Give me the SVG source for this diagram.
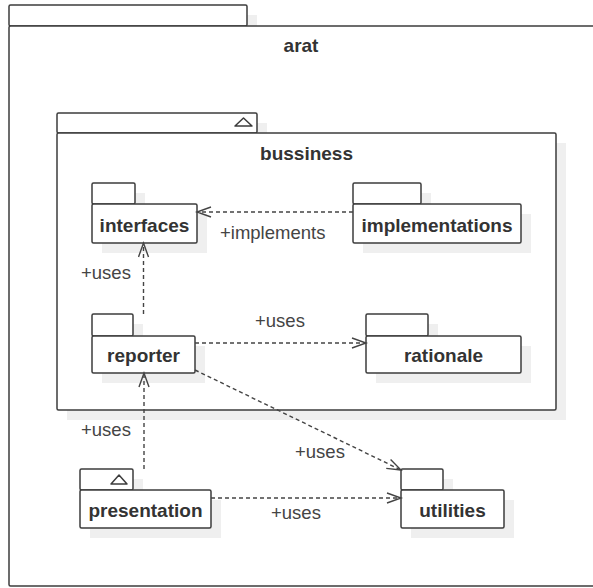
<svg xmlns="http://www.w3.org/2000/svg" width="593" height="588" viewBox="0 0 593 588">
  <style>
    .shadow { fill: #efefef; stroke: none; }
    .pkg { fill: #ffffff; stroke: #3c3c3c; stroke-width: 1.5; }
    .name { font-family: "Liberation Sans", Arial, sans-serif; font-size: 19px; font-weight: bold; fill: #333333; text-anchor: middle; }
    .label { font-family: "Liberation Sans", Arial, sans-serif; font-size: 18.5px; fill: #444444; }
    .dep { fill: none; stroke: #444444; stroke-width: 1.4; stroke-dasharray: 4 3; }
    .icon { fill: none; stroke: #3c3c3c; stroke-width: 1.5; stroke-linejoin: round; }
  </style>
  <defs>
    <marker id="open" markerUnits="userSpaceOnUse" markerWidth="18" markerHeight="14" refX="15" refY="6" orient="auto">
      <path d="M1,1 L15,6 L1,11" fill="none" stroke="#444444" stroke-width="1.4" stroke-dasharray="none"/>
    </marker>
  </defs>

  <rect width="593" height="588" fill="#ffffff"/>

  <!-- outer package: arat -->
  <g id="arat">
    <rect class="shadow" x="19" y="15" width="238" height="21"/>
    <rect class="pkg" x="9" y="5" width="238" height="21" rx="1.5"/>
    <rect class="pkg" x="9" y="26" width="586" height="560" rx="1.5"/>
    <text class="name" x="301" y="52">arat</text>
  </g>

  <!-- nested package: bussiness -->
  <g id="bussiness">
    <rect class="shadow" x="67" y="123" width="200" height="20"/>
    <rect class="shadow" x="67" y="143" width="499" height="277"/>
    <rect class="pkg" x="57" y="113" width="200" height="20" rx="1.5"/>
    <rect class="pkg" x="57" y="133" width="499" height="277" rx="1.5"/>
    <path class="icon" d="M235,126 L252,126 L243.5,118 Z"/>
    <text class="name" x="306.5" y="160">bussiness</text>
  </g>

  <g id="interfaces">
    <rect class="shadow" x="102" y="193" width="43" height="21"/>
    <rect class="shadow" x="102" y="214" width="105" height="39"/>
    <rect class="pkg" x="92" y="183" width="43" height="21" rx="1.5"/>
    <rect class="pkg" x="92" y="204" width="105" height="39" rx="1.5"/>
    <text class="name" x="144.5" y="232">interfaces</text>
  </g>

  <g id="implementations">
    <rect class="shadow" x="363" y="193" width="68" height="21"/>
    <rect class="shadow" x="363" y="214" width="168" height="39"/>
    <rect class="pkg" x="353" y="183" width="68" height="21" rx="1.5"/>
    <rect class="pkg" x="353" y="204" width="168" height="39" rx="1.5"/>
    <text class="name" x="437" y="232">implementations</text>
  </g>

  <g id="reporter">
    <rect class="shadow" x="102" y="324" width="41" height="22"/>
    <rect class="shadow" x="102" y="346" width="103" height="37"/>
    <rect class="pkg" x="92" y="314" width="41" height="22" rx="1.5"/>
    <rect class="pkg" x="92" y="336" width="103" height="37" rx="1.5"/>
    <text class="name" x="143.5" y="362">reporter</text>
  </g>

  <g id="rationale">
    <rect class="shadow" x="376" y="324" width="62" height="22"/>
    <rect class="shadow" x="376" y="346" width="155" height="37"/>
    <rect class="pkg" x="366" y="314" width="62" height="22" rx="1.5"/>
    <rect class="pkg" x="366" y="336" width="155" height="37" rx="1.5"/>
    <text class="name" x="443.5" y="362">rationale</text>
  </g>

  <g id="presentation">
    <rect class="shadow" x="90" y="479" width="53" height="21"/>
    <rect class="shadow" x="90" y="500" width="131" height="38"/>
    <rect class="pkg" x="80" y="469" width="53" height="21" rx="1.5"/>
    <rect class="pkg" x="80" y="490" width="131" height="38" rx="1.5"/>
    <path class="icon" d="M111,484 L127,484 L119,475 Z"/>
    <text class="name" x="145.5" y="517">presentation</text>
  </g>

  <g id="utilities">
    <rect class="shadow" x="411" y="479" width="42" height="21"/>
    <rect class="shadow" x="411" y="500" width="103" height="38"/>
    <rect class="pkg" x="401" y="469" width="42" height="21" rx="1.5"/>
    <rect class="pkg" x="401" y="490" width="103" height="38" rx="1.5"/>
    <text class="name" x="452.5" y="517">utilities</text>
  </g>

  <!-- dependencies -->
  <g id="connectors">
    <line class="dep" x1="353" y1="212" x2="197" y2="212" marker-end="url(#open)"/>
    <text class="label" x="220" y="239">+implements</text>

    <line class="dep" x1="143.5" y1="314" x2="143.5" y2="243" marker-end="url(#open)"/>
    <text class="label" x="81" y="279">+uses</text>

    <line class="dep" x1="195" y1="343" x2="366" y2="343" marker-end="url(#open)"/>
    <text class="label" x="255" y="327">+uses</text>

    <line class="dep" x1="195" y1="370" x2="401" y2="470" marker-end="url(#open)"/>
    <text class="label" x="295" y="458">+uses</text>

    <line class="dep" x1="144" y1="469" x2="144" y2="373" marker-end="url(#open)"/>
    <text class="label" x="81" y="436">+uses</text>

    <line class="dep" x1="211" y1="498" x2="401" y2="498" marker-end="url(#open)"/>
    <text class="label" x="271" y="519">+uses</text>
  </g>
</svg>
